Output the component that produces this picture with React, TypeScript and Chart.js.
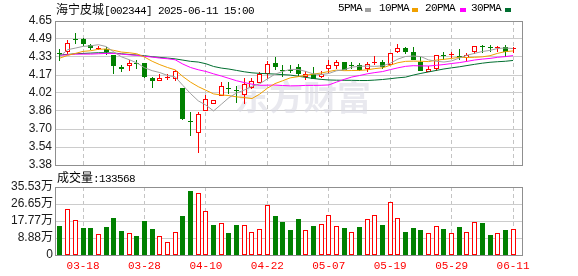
import React, { useEffect, useRef } from 'react';
import { Chart, registerables } from 'chart.js';

Chart.register(...registerables);

// ---------- data ----------
const dates = [
  '03-13','03-14','03-17','03-18','03-19','03-20','03-21','03-24','03-25','03-26','03-27','03-28','03-31',
  '04-01','04-02','04-03','04-07','04-08','04-09','04-10','04-11','04-14','04-15','04-16','04-17','04-18','04-21','04-22','04-23','04-24','04-25','04-28','04-29','04-30',
  '05-06','05-07','05-08','05-09','05-12','05-13','05-14','05-15','05-16','05-19','05-20','05-21','05-22','05-23','05-26','05-27','05-28','05-29','05-30',
  '06-03','06-04','06-05','06-06','06-09','06-10','06-11',
];
const tickIndices = [3, 11, 19, 27, 35, 43, 51, 59];

const openP = [4.37,4.38,4.49,4.49,4.44,4.40,4.40,4.35,4.24,4.25,4.28,4.28,4.15,4.12,4.15,4.14,4.06,3.77,3.66,3.86,3.92,3.99,4.06,4.04,4.00,4.06,4.10,4.18,4.28,4.22,4.22,4.24,4.16,4.18,4.16,4.23,4.25,4.29,4.26,4.26,4.23,4.28,4.29,4.26,4.38,4.41,4.38,4.29,4.20,4.23,4.35,4.35,4.34,4.32,4.38,4.43,4.42,4.41,4.42,4.40];
const highP = [4.40,4.48,4.54,4.50,4.45,4.43,4.42,4.35,4.26,4.31,4.31,4.28,4.16,4.18,4.18,4.22,4.06,3.85,3.85,4.00,3.95,4.11,4.11,4.08,4.15,4.15,4.20,4.30,4.33,4.26,4.26,4.27,4.21,4.24,4.21,4.31,4.31,4.29,4.29,4.28,4.29,4.34,4.31,4.37,4.45,4.42,4.42,4.33,4.25,4.35,4.38,4.38,4.40,4.37,4.43,4.44,4.44,4.43,4.44,4.42];
const lowP = [4.30,4.36,4.45,4.43,4.39,4.39,4.35,4.18,4.20,4.21,4.23,4.15,4.06,4.12,4.13,4.12,3.78,3.64,3.49,3.86,3.92,3.99,4.01,3.93,3.92,4.05,4.10,4.14,4.22,4.16,4.19,4.16,4.13,4.14,4.15,4.19,4.23,4.22,4.23,4.21,4.20,4.26,4.23,4.26,4.37,4.36,4.31,4.21,4.20,4.21,4.31,4.32,4.31,4.30,4.36,4.37,4.38,4.38,4.33,4.37];
const closeP = [4.36,4.46,4.48,4.45,4.41,4.41,4.38,4.25,4.23,4.28,4.27,4.16,4.12,4.15,4.16,4.21,3.79,3.76,3.83,3.96,3.95,4.08,4.05,4.03,4.09,4.12,4.18,4.27,4.24,4.21,4.21,4.18,4.18,4.14,4.18,4.26,4.29,4.22,4.25,4.22,4.27,4.29,4.24,4.37,4.41,4.38,4.31,4.21,4.23,4.35,4.34,4.36,4.33,4.35,4.43,4.42,4.41,4.42,4.38,4.41];

const ma5 = [4.338,4.397,4.411,4.426,4.431,4.441,4.425,4.378,4.334,4.309,4.281,4.238,4.212,4.195,4.170,4.157,4.082,4.010,3.946,3.908,3.857,3.915,3.974,4.015,4.041,4.075,4.096,4.139,4.181,4.205,4.223,4.223,4.205,4.183,4.177,4.187,4.211,4.220,4.243,4.251,4.252,4.250,4.254,4.277,4.314,4.337,4.341,4.336,4.307,4.295,4.288,4.298,4.323,4.348,4.365,4.381,4.391,4.408,4.412,4.407];
const ma10 = [4.323,4.347,4.364,4.382,4.388,4.400,4.403,4.391,4.376,4.370,4.361,4.332,4.295,4.265,4.240,4.219,4.160,4.111,4.071,4.039,4.007,3.998,3.992,3.981,3.975,3.966,4.005,4.057,4.098,4.123,4.149,4.159,4.172,4.182,4.191,4.205,4.217,4.212,4.213,4.214,4.219,4.230,4.237,4.260,4.282,4.294,4.296,4.295,4.292,4.305,4.312,4.320,4.330,4.328,4.330,4.334,4.344,4.365,4.380,4.386];
const ma20 = [4.347,4.352,4.358,4.358,4.358,4.361,4.364,4.364,4.358,4.352,4.347,4.338,4.332,4.323,4.317,4.308,4.270,4.240,4.220,4.205,4.184,4.165,4.144,4.123,4.107,4.093,4.083,4.084,4.085,4.081,4.078,4.079,4.082,4.082,4.083,4.086,4.111,4.135,4.156,4.169,4.184,4.195,4.204,4.221,4.237,4.250,4.256,4.254,4.253,4.259,4.266,4.275,4.283,4.294,4.306,4.314,4.320,4.330,4.336,4.345];
const ma30 = [4.352,4.355,4.361,4.364,4.367,4.370,4.370,4.367,4.361,4.355,4.350,4.344,4.335,4.329,4.323,4.316,4.305,4.294,4.288,4.273,4.249,4.235,4.226,4.214,4.202,4.193,4.188,4.185,4.182,4.177,4.173,4.163,4.153,4.143,4.135,4.130,4.128,4.127,4.127,4.125,4.125,4.129,4.134,4.141,4.149,4.155,4.173,4.188,4.201,4.214,4.227,4.237,4.246,4.257,4.268,4.278,4.286,4.291,4.295,4.302];

// volume in 万 (10k shares)
const volume = [15.0,24.2,18.5,13.9,13.9,11.1,14.5,19.2,12.4,11.7,9.8,17.6,13.4,10.1,7.0,12.2,20.2,33.3,32.6,23.2,15.5,16.9,11.3,15.5,15.9,12.2,13.8,26.3,20.2,17.1,12.9,18.7,13.2,15.0,16.4,21.1,15.3,13.9,12.2,14.5,18.7,21.1,15.5,27.9,19.5,11.9,13.9,12.9,11.7,15.3,13.4,11.7,14.5,12.2,17.4,16.6,10.3,11.7,12.9,13.3568];
const volumeUp = [0,1,1,0,0,1,0,0,0,1,0,0,0,1,1,1,0,0,1,1,0,1,0,0,1,1,1,1,0,0,0,0,1,0,1,1,1,0,1,0,1,1,0,1,1,0,0,0,1,1,0,1,0,1,1,0,0,1,0,1];

const priceTickLabels = ['3.38','3.54','3.70','3.86','4.02','4.17','4.33','4.49','4.65'];
const volumeTickLabels = ['0','8.88万','17.77万','26.65万','35.53万'];

const legendItems = [
  { label: '5PMA', color: '#a0a0a0' },
  { label: '10PMA', color: '#f0a000' },
  { label: '20PMA', color: '#ff00ff' },
  { label: '30PMA', color: '#006e30' },
];

// ---------- styles ----------
const RED = '#ff0000';
const GREEN = '#008000';
const GRID = '#cccccc';
const VGRID = '#c4c4c4';
const FRAME = '#8f8f8f';
const X_MIN = -0.651;
const X_MAX = 60.164;
const PRICE_MIN = 3.38;
const PRICE_MAX = 4.65;
const VOL_MAX = 35.53;
const MONO = '"Liberation Mono", "DejaVu Sans Mono", monospace';
const SANS = '"Liberation Sans", "Noto Sans CJK SC", sans-serif';
const CJK = '"Noto Sans CJK SC", sans-serif';

const framePlugin = {
  id: 'frame',
  afterDraw(chart: any) {
    const { ctx, chartArea: a } = chart;
    ctx.save();
    ctx.strokeStyle = FRAME;
    ctx.lineWidth = 1;
    ctx.strokeRect(a.left + 0.5, a.top + 0.5, a.right - a.left, a.bottom - a.top);
    ctx.restore();
  },
};

const crispPlugin = {
  id: 'crisp',
  beforeDatasetsDraw(chart: any) {
    chart.data.datasets.forEach((_ds: any, di: number) => {
      const meta = chart.getDatasetMeta(di);
      if (meta.type !== 'bar') return;
      meta.data.forEach((el: any) => {
        el.x = Math.floor(el.x) + 0.5;
        el.width = Math.max(1, Math.round(el.width));
        const top = Math.round(Math.min(el.y, el.base));
        let bot = Math.round(Math.max(el.y, el.base));
        if (bot - top < 1) bot = top + 1;
        el.y = top;
        el.base = bot;
      });
    });
  },
};

const watermarkPlugin = {
  id: 'watermark',
  beforeDatasetsDraw(chart: any) {
    const { ctx, chartArea: a } = chart;
    ctx.save();
    ctx.fillStyle = 'rgba(215,215,225,0.55)';
    ctx.font = 'bold 34px ' + CJK;
    ctx.textBaseline = 'middle';
    ctx.textAlign = 'left';
    ctx.fillText('东方财富', a.left + 180, a.top + 76);
    ctx.restore();
  },
};

const xScale = (showLabels: boolean) => ({
  type: 'linear' as const,
  min: X_MIN,
  max: X_MAX,
  offset: false,
  afterBuildTicks: (s: any) => {
    s.ticks = tickIndices.map((v) => ({ value: v }));
  },
  afterFit: (s: any) => {
    s.height = showLabels ? 21 : 0;
  },
  grid: { color: VGRID, drawTicks: false, offset: false, lineWidth: 1 },
  border: { display: true, width: 0, dash: [4, 3] },
  ticks: {
    display: showLabels,
    autoSkip: false,
    maxRotation: 0,
    padding: 4,
    color: RED,
    font: { family: MONO, size: 11 },
    callback: (v: any) => dates[Math.round(Number(v))] ?? '',
  },
});

export default function App() {
  const priceRef = useRef<HTMLCanvasElement>(null);
  const volRef = useRef<HTMLCanvasElement>(null);

  useEffect(() => {
    const up = closeP.map((c, i) => c > openP[i]);
    const priceChart = new Chart(priceRef.current as HTMLCanvasElement, {
      type: 'bar',
      data: {
        datasets: [
          { type: 'line', label: 'MA5', data: ma5.map((y, i) => ({ x: i, y })), borderColor: legendItems[0].color, borderWidth: 1, pointRadius: 0, tension: 0, order: 0 } as any,
          { type: 'line', label: 'MA10', data: ma10.map((y, i) => ({ x: i, y })), borderColor: legendItems[1].color, borderWidth: 1, pointRadius: 0, tension: 0, order: 0 } as any,
          { type: 'line', label: 'MA20', data: ma20.map((y, i) => ({ x: i, y })), borderColor: legendItems[2].color, borderWidth: 1, pointRadius: 0, tension: 0, order: 0 } as any,
          { type: 'line', label: 'MA30', data: ma30.map((y, i) => ({ x: i, y })), borderColor: legendItems[3].color, borderWidth: 1, pointRadius: 0, tension: 0, order: 0 } as any,
          {
            type: 'bar',
            label: 'body',
            data: dates.map((_, i) => ({ x: i, y: [openP[i], closeP[i]] })),
            backgroundColor: up.map((u) => (u ? '#ffffff' : GREEN)),
            borderColor: up.map((u) => (u ? RED : GREEN)),
            borderWidth: up.map((u) => (u ? 1 : 0)),
            borderSkipped: false,
            inflateAmount: 0,
            maxBarThickness: 5,
            minBarLength: 1,
            grouped: false,
            order: 1,
          } as any,
          {
            type: 'bar',
            label: 'wick',
            data: dates.map((_, i) => ({ x: i, y: [lowP[i], highP[i]] })),
            backgroundColor: up.map((u) => (u ? RED : GREEN)),
            borderWidth: 0,
            borderSkipped: false,
            inflateAmount: 0,
            maxBarThickness: 1,
            grouped: false,
            order: 2,
          } as any,
        ],
      },
      options: {
        responsive: false,
        maintainAspectRatio: false,
        animation: false,
        events: [],
        layout: { padding: { left: 0, right: 56, top: 21, bottom: 11 } },
        plugins: { legend: { display: false }, tooltip: { enabled: false } },
        scales: {
          x: xScale(false) as any,
          y: {
            type: 'linear',
            min: PRICE_MIN,
            max: PRICE_MAX,
            beginAtZero: false,
            afterBuildTicks: (s: any) => {
              s.ticks = priceTickLabels.map((_, k) => ({ value: PRICE_MIN + (k * (PRICE_MAX - PRICE_MIN)) / (priceTickLabels.length - 1) }));
            },
            afterFit: (s: any) => {
              s.width = 55;
            },
            grid: { color: GRID, drawTicks: false },
            border: { display: false },
            ticks: {
              autoSkip: false,
              padding: 3,
              color: '#1a1a1a',
              font: { family: SANS, size: 12 },
              callback: (_v: any, idx: number) => priceTickLabels[idx],
            },
          },
        },
      },
      plugins: [watermarkPlugin, crispPlugin, framePlugin],
    });

    const volChart = new Chart(volRef.current as HTMLCanvasElement, {
      type: 'bar',
      data: {
        datasets: [
          {
            label: 'volume',
            data: volume.map((v, i) => ({ x: i, y: v })),
            backgroundColor: volumeUp.map((u) => (u ? '#ffffff' : GREEN)),
            borderColor: volumeUp.map((u) => (u ? RED : GREEN)),
            borderWidth: volumeUp.map((u) => (u ? 1 : 0)),
            borderSkipped: false,
            inflateAmount: 0,
            maxBarThickness: 5,
            grouped: false,
          } as any,
        ],
      },
      options: {
        responsive: false,
        maintainAspectRatio: false,
        animation: false,
        events: [],
        layout: { padding: { left: 0, right: 56, top: 11, bottom: 0 } },
        plugins: { legend: { display: false }, tooltip: { enabled: false } },
        scales: {
          x: xScale(true) as any,
          y: {
            type: 'linear',
            min: 0,
            max: VOL_MAX,
            afterBuildTicks: (s: any) => {
              s.ticks = volumeTickLabels.map((_, k) => ({ value: (k * VOL_MAX) / (volumeTickLabels.length - 1) }));
            },
            afterFit: (s: any) => {
              s.width = 55;
            },
            grid: { color: GRID, drawTicks: false },
            border: { display: false },
            ticks: {
              autoSkip: false,
              padding: 2,
              color: '#1a1a1a',
              font: { family: SANS, size: 12 },
              callback: (_v: any, idx: number) => volumeTickLabels[idx],
            },
          },
        },
      },
      plugins: [crispPlugin, framePlugin],
    });

    return () => {
      priceChart.destroy();
      volChart.destroy();
    };
  }, []);

  const legendPos = [338, 379, 425, 471];
  const squarePos = [365, 412, 460, 505];

  return (
    <div style={{ position: 'absolute', left: 0, top: 0, width: 578, height: 276, background: '#fff', overflow: 'hidden' }}>
      <canvas ref={priceRef} width={578} height={176} style={{ position: 'absolute', left: 0, top: 0, width: 578, height: 176 }} />
      <canvas ref={volRef} width={578} height={100} style={{ position: 'absolute', left: 0, top: 176, width: 578, height: 100 }} />
      <div style={{ position: 'absolute', left: 56, top: 2, height: 14, lineHeight: '14px', whiteSpace: 'nowrap', color: '#000' }}>
        <span style={{ font: '12px ' + CJK, lineHeight: '14px' }}>海宁皮城</span>
        <span style={{ font: '11px ' + MONO, letterSpacing: '-0.6px', lineHeight: '14px' }}>[002344] 2025-06-11 15:00</span>
      </div>
      {legendItems.map((it, k) => (
        <React.Fragment key={it.label}>
          <div style={{ position: 'absolute', left: legendPos[k], top: 2, lineHeight: '14px', font: '11px ' + MONO, letterSpacing: '-0.6px', color: '#000', whiteSpace: 'nowrap' }}>{it.label}</div>
          <div style={{ position: 'absolute', left: squarePos[k], top: 8, width: 6, height: 4, background: it.color }} />
        </React.Fragment>
      ))}
      <div style={{ position: 'absolute', left: 57, top: 170, height: 14, lineHeight: '14px', whiteSpace: 'nowrap', color: '#000' }}>
        <span style={{ font: '12px ' + CJK, lineHeight: '14px' }}>成交量</span>
        <span style={{ font: '11px ' + MONO, letterSpacing: '-0.6px', lineHeight: '14px' }}>:133568</span>
      </div>
    </div>
  );
}
